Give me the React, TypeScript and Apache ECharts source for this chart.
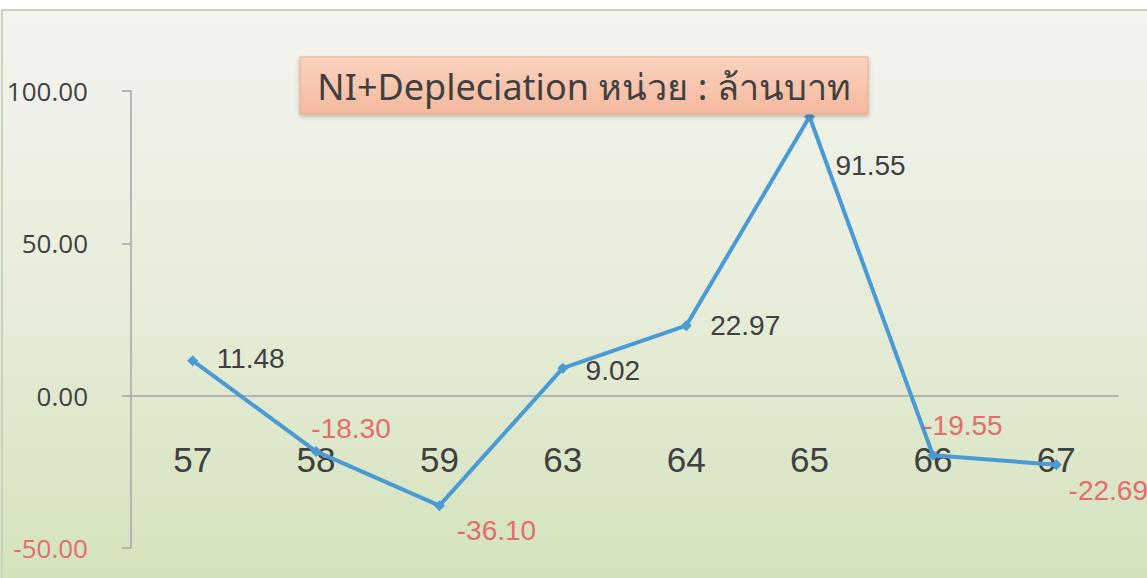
import React, { useEffect, useRef } from "react";
import * as echarts from "echarts";

const categories = ["57", "58", "59", "63", "64", "65", "66", "67"];
const values = [11.48, -18.3, -36.1, 9.02, 22.97, 91.55, -19.55, -22.69];
const yMin = -50;
const yMax = 100;
const yInterval = 50;
const titleText = "NI+Depleciation หน่วย : ล้านบาท";
const labelOffsets = [
  [58, -2],
  [35, -23],
  [57, 25],
  [50, 2],
  [59, 0],
  [61, 49],
  [30, -30],
  [52, 26],
];

const GRAY = "#404040";
const RED = "#e36d6d";
const BLUE = "#4a9ad6";

export default function App() {
  const ref = useRef<HTMLDivElement>(null);
  useEffect(() => {
    document.body.style.margin = "0";
    const chart = echarts.init(ref.current!, null, { renderer: "svg" });
    chart.setOption({
      animation: false,
      backgroundColor: {
        type: "linear",
        x: 0,
        y: 0,
        x2: 0,
        y2: 1,
        colorStops: [
          { offset: 0, color: "#f4f4f0" },
          { offset: 0.45, color: "#e9eedd" },
          { offset: 1, color: "#d4e3bd" },
        ],
      },
      grid: {
        left: 131,
        right: 29,
        top: 91,
        bottom: 30,
        containLabel: false,
        outerBoundsMode: "none",
      },
      xAxis: {
        type: "category",
        data: categories,
        boundaryGap: true,
        axisLine: { onZero: true, lineStyle: { color: "#a6a6a6", width: 1.5 } },
        axisTick: { show: false },
        axisLabel: {
          margin: -106,
          fontSize: 35,
          lineHeight: 35,
          color: GRAY,
          fontFamily: "Liberation Sans, Arial, sans-serif",
        },
      },
      yAxis: {
        type: "value",
        min: yMin,
        max: yMax,
        interval: yInterval,
        splitLine: { show: false },
        axisLine: { show: true, lineStyle: { color: "#a6a6a6", width: 1.5 } },
        axisTick: { show: true, length: 9, lineStyle: { color: "#a6a6a6", width: 1.5 } },
        axisLabel: {
          margin: 43,
          fontSize: 26,
          fontFamily: "Open Sans, Liberation Sans, sans-serif",
          color: GRAY,
          formatter: (v: number) =>
            v < 0 ? `{neg|${v.toFixed(2)}}` : `{pos|${v.toFixed(2)}}`,
          rich: {
            neg: { color: RED, fontSize: 26, fontFamily: "Open Sans, Liberation Sans, sans-serif" },
            pos: { color: GRAY, fontSize: 26, fontFamily: "Open Sans, Liberation Sans, sans-serif" },
          },
        },
      },
      series: [
        {
          type: "line",
          data: values.map((v, i) => ({
            value: v,
            label: {
              show: true,
              position: "inside",
              offset: labelOffsets[i],
              color: v < 0 ? RED : GRAY,
            },
          })),
          symbol: "diamond",
          symbolSize: 11,
          itemStyle: { color: BLUE },
          lineStyle: { color: BLUE, width: 4 },
          label: {
            show: true,
            fontSize: 28,
            fontFamily: "Liberation Sans, Arial, sans-serif",
            formatter: (p: any) => Number(p.value).toFixed(2),
          },
          z: 3,
        },
      ],
      graphic: [
        {
          type: "rect",
          shape: { x: 0, y: 0, width: 1147, height: 10 },
          style: { fill: "#ffffff" },
          silent: true,
        },
        {
          type: "rect",
          shape: { x: 2, y: 10, width: 1150, height: 580 },
          style: { fill: "none", stroke: "#c8d3bb", lineWidth: 2 },
          silent: true,
        },
        {
          type: "rect",
          shape: { x: 300, y: 57, width: 568, height: 57 },
          style: {
            fill: {
              type: "linear",
              x: 0,
              y: 0,
              x2: 0,
              y2: 1,
              colorStops: [
                { offset: 0, color: "#fbd3bf" },
                { offset: 1, color: "#f4b99e" },
              ],
            },
            stroke: "#eaa98c",
            lineWidth: 1,
            shadowBlur: 4,
            shadowOffsetY: 2,
            shadowColor: "rgba(0,0,0,0.25)",
          },
          z: 10,
        },
        {
          type: "text",
          x: 584,
          y: 86,
          style: {
            text: titleText,
            fontSize: 36,
            fontFamily: "Noto Sans, Open Sans, sans-serif",
            fill: GRAY,
            align: "center",
            verticalAlign: "middle",
          },
          z: 11,
        },
      ],
    });
    return () => chart.dispose();
  }, []);
  return (
    <div
      ref={ref}
      style={{ position: "absolute", left: 0, top: 0, width: 1147, height: 578 }}
    />
  );
}
